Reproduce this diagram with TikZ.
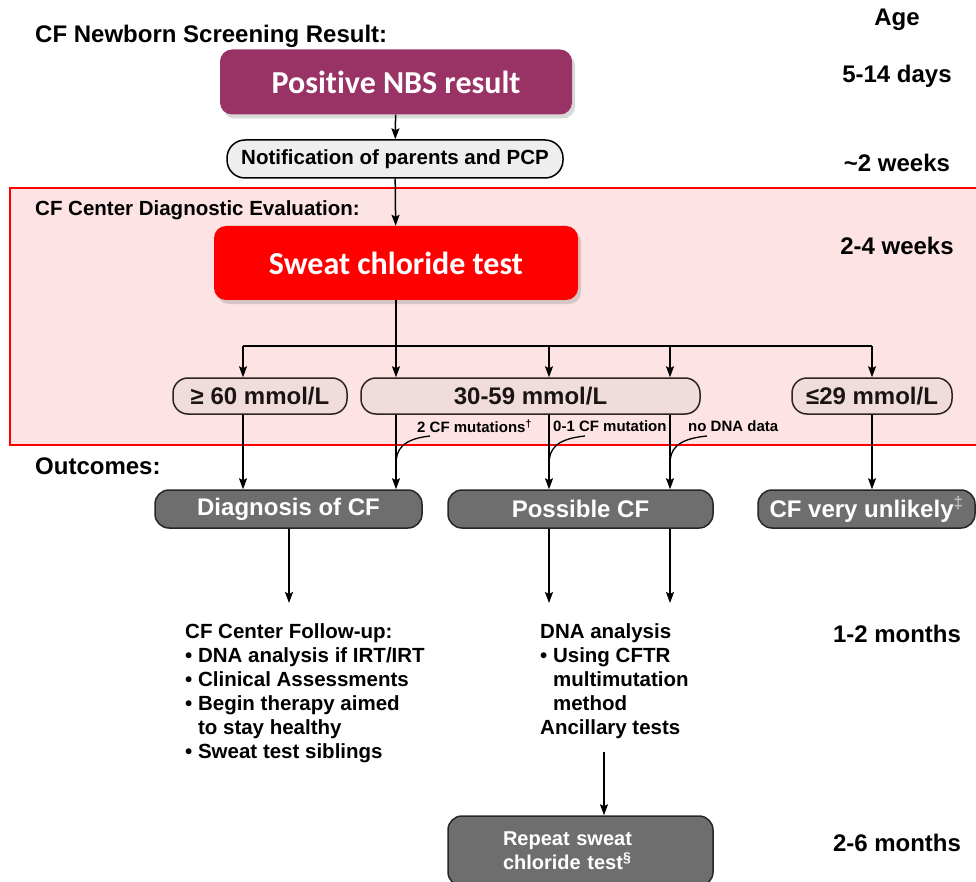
\documentclass[tikz,border=0pt]{standalone}
\usepackage{fontspec}
\setmainfont{Liberation Sans}
\newfontfamily\calfont{Carlito}[Ligatures=NoCommon]
\usepackage{tikz}
\usetikzlibrary{arrows.meta,shadows}
\definecolor{nbs}{HTML}{993366}
\definecolor{alarm}{HTML}{FF0000}
\definecolor{zone}{HTML}{FDE3E3}
\definecolor{level}{HTML}{F1DCDC}
\definecolor{notif}{HTML}{EEEEEE}
\definecolor{outc}{HTML}{6E6E6E}
\definecolor{edge}{HTML}{2B2424}
\definecolor{ink}{HTML}{1A1414}
\tikzset{
  wire/.style={draw=black, line width=1.5pt},
  arr/.style={wire, -{Stealth[length=11pt,width=8pt,inset=2pt]}},
  lead/.style={draw=black, line width=1.3pt},
  zonebox/.style={draw=alarm, fill=zone, line width=1.5pt},
  bigbox/.style={rounded corners=12pt, inner sep=0pt, text=white,
    font=\calfont\bfseries\fontsize{32}{36}\selectfont,
    drop shadow={opacity=0.3, shadow xshift=3pt, shadow yshift=-4pt}},
  pill/.style={draw=black, fill=notif, line width=1.5pt, rounded corners=18pt,
    inner sep=0pt, font=\bfseries\fontsize{20.5}{24}\selectfont},
  lvl/.style={draw=edge, fill=level, line width=1.5pt, rounded corners=15pt,
    inner sep=0pt, text=ink, font=\bfseries\fontsize{24}{28}\selectfont},
  outbox/.style={draw=edge, fill=outc, line width=1.5pt, rounded corners=14pt,
    inner sep=0pt, text=white, font=\bfseries\fontsize{24}{28}\selectfont},
  head/.style={inner sep=0pt, anchor=west, font=\bfseries\fontsize{24}{28}\selectfont},
  age/.style={inner sep=0pt, font=\bfseries\fontsize{24}{28}\selectfont},
  small/.style={inner sep=0pt, anchor=west, font=\bfseries\fontsize{15}{18}\selectfont},
  txt/.style={inner sep=0pt, anchor=north west, align=left,
    font=\bfseries\fontsize{20.5}{24}\selectfont},
}

\begin{document}
\begin{tikzpicture}[x=1pt,y=-1pt]
  \useasboundingbox (0,0) rectangle (976,882);
  % evaluation zone
  \draw[zonebox] (10,188) rectangle (990,445);

  % section heads
  \node[head] (hnbs) at (35,36) {CF Newborn Screening Result:};
  \node[head, font=\bfseries\fontsize{20.5}{24}\selectfont] (heval) at (35,210) {CF Center Diagnostic Evaluation:};
  \node[head] (hout) at (35,466) {Outcomes:};

  % age column
  \node[age] (age0) at (897,20) {Age};
  \node[age] (age1) at (897,76) {5-14 days};
  \node[age] (age2) at (897,163) {\textasciitilde2 weeks};
  \node[age] (age3) at (897,246) {2-4 weeks};
  \node[age] (age4) at (897,634) {1-2 months};
  \node[age] (age5) at (897,843) {2-6 months};

  % main chain
  \node[bigbox, fill=nbs, minimum width=352pt, minimum height=65pt] (nbs) at (396,82) {Positive NBS result};
  \node[pill, minimum width=336pt, minimum height=38pt] (notif) at (395,159) {Notification of parents and PCP};
  \node[bigbox, fill=alarm, minimum width=364pt, minimum height=74pt] (sweat) at (396,263) {Sweat chloride test};
  \draw[arr] (nbs) -- (notif);
  \draw[arr] (notif) -- (sweat);

  % chloride levels
  \node[lvl, minimum width=174pt, minimum height=36pt] (hi) at (260,396) {≥ 60 mmol/L};
  \node[lvl, minimum width=339pt, minimum height=36pt] (mid) at (530.5,396) {30-59 mmol/L};
  \node[lvl, minimum width=160pt, minimum height=36pt] (lo) at (872,396) {≤29 mmol/L};

  \coordinate (ba) at (243,346);
  \coordinate (bb) at (396,346);
  \coordinate (bc) at (549,346);
  \coordinate (bd) at (670,346);
  \coordinate (be) at (872,346);
  \draw[wire] (sweat) -- (bb);
  \draw[wire] (ba) -- (be);
  \foreach \b/\t in {ba/hi, bb/mid, bc/mid, bd/mid, be/lo}
    \draw[arr] (\b) -- (\b |- \t.north);

  % outcomes
  \node[outbox, minimum width=267pt, minimum height=38pt] (diag) at (288.5,509) {Diagnosis of CF};
  \node[outbox, minimum width=265pt, minimum height=38pt] (poss) at (580.5,509) {Possible CF};
  \node[outbox, minimum width=217pt, minimum height=38pt] (unl) at (866.5,509) {CF very unlikely\textsuperscript{\color{white!75!black}‡}};

  \draw[arr] (ba |- hi.south) -- (ba |- diag.north);
  \draw[arr] (bb |- mid.south) -- (bb |- diag.north);
  \draw[arr] (bc |- mid.south) -- (bc |- poss.north);
  \draw[arr] (bd |- mid.south) -- (bd |- poss.north);
  \draw[arr] (be |- lo.south) -- (be |- unl.north);

  % DNA result labels
  \node[small] (m2) at (417,426) {2 CF mutations\textsuperscript{†}};
  \node[small] (m01) at (553,426) {0-1 CF mutation};
  \node[small] (m0) at (688,426) {no DNA data};
  \coordinate (c2) at (430,436);
  \coordinate (c01) at (585,436);
  \coordinate (c0) at (707,436);
  \coordinate (j2) at (396,464);
  \coordinate (j01) at (549,464);
  \coordinate (j0) at (670,464);
  \draw[lead] (c2) .. controls (402,439) and (396,450) .. (j2);
  \draw[lead] (c01) .. controls (555,439) and (549,450) .. (j01);
  \draw[lead] (c0) .. controls (676,439) and (670,450) .. (j0);

  % follow-up
  \node[txt] (follow) at (185,623) {CF Center Follow-up:\\
    \textbullet\ DNA analysis if IRT/IRT\\
    \textbullet\ Clinical Assessments\\
    \textbullet\ Begin therapy aimed\\
    \hphantom{\textbullet\ }to stay healthy\\
    \textbullet\ Sweat test siblings};
  \node[txt] (dna) at (540,623) {DNA analysis\\
    \textbullet\ Using CFTR\\
    \hphantom{\textbullet\ }multimutation\\
    \hphantom{\textbullet\ }method\\
    Ancillary tests};

  \coordinate (fa) at (289,603);
  \coordinate (fc) at (549,603);
  \coordinate (fd) at (670,603);
  \draw[arr] (fa |- diag.south) -- (fa);
  \draw[arr] (fc |- poss.south) -- (fc);
  \draw[arr] (fd |- poss.south) -- (fd);

  % repeat test
  \node[outbox, minimum height=70pt, text width=155pt, inner xsep=55pt, align=left,
    font=\bfseries\fontsize{20}{24}\selectfont] (rep) at (580.5,851) {Repeat sweat\\chloride test\textsuperscript{§}};
  \coordinate (dout) at (604,752);
  \draw[arr] (dout) -- (dout |- rep.north);
\end{tikzpicture}
\end{document}
